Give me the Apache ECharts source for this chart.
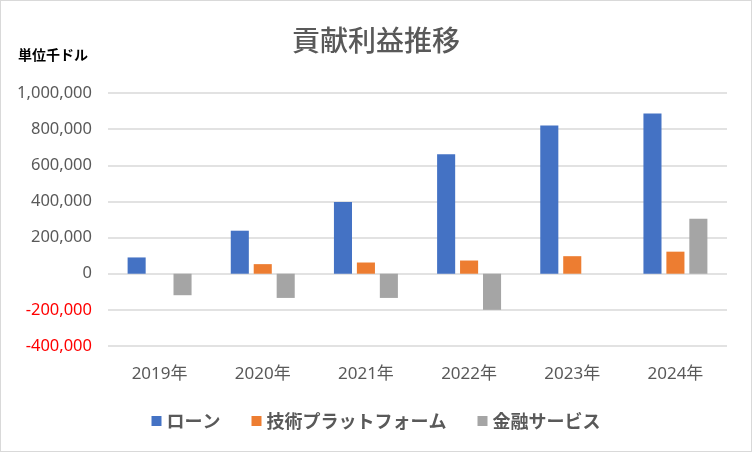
<!DOCTYPE html>
<html><head><meta charset="utf-8">
<script src="https://cdn.jsdelivr.net/npm/echarts@6/dist/echarts.min.js"></script>
<style>html,body{margin:0;padding:0;background:#fff}#c{width:750px;height:450px;border:1px solid #d9d9d9}</style>
</head><body><div id="c"></div>
<script>
const categories = ['2019年','2020年','2021年','2022年','2023年','2024年'];
const loan = [90000, 238000, 397000, 661000, 820000, 886000];
const techPlatform = [0, 53000, 62000, 73000, 97000, 122000];
const financialServices = [-119000, -134000, -134000, -200000, 0, 304000];
const seriesNames = ['ローン','技術プラットフォーム','金融サービス'];
const colors = ['#4472C4','#ED7D31','#A5A5A5'];
const jp = '"Noto Sans CJK JP", "Noto Sans", sans-serif';
const num = '"Noto Sans", "Noto Sans CJK JP", sans-serif';
const chart = echarts.init(document.getElementById('c'));
chart.setOption({
  animation:false,
  title:{text:'貢献利益推移',left:'center',top:20,textStyle:{fontFamily:jp,fontSize:28,fontWeight:500,color:'#595959'}},
  graphic:[{type:'text',left:17,top:47,style:{text:'単位千ドル',font:'bold 14px '+jp,fill:'#000'}}],
  legend:{top:406,left:'center',itemWidth:10,itemHeight:10,itemGap:31,icon:'rect',
    textStyle:{fontFamily:jp,fontSize:18,fontWeight:'bold',color:'#595959'}},
  grid:{left:107,right:24,top:92,bottom:105,containLabel:false},
  xAxis:{type:'category',data:categories,axisLine:{show:false},axisTick:{show:false},
    axisLabel:{fontFamily:num,fontSize:17,color:'#595959',margin:20}},
  yAxis:{type:'value',min:-400000,max:1000000,interval:200000,
    axisLabel:{fontFamily:num,fontSize:16.5,margin:16,
      color:function(v){return v<0?'#FF0000':'#595959';},
      formatter:function(v){return v.toLocaleString('en-US');}},
    splitLine:{lineStyle:{color:'#d9d9d9',width:1.5}}},
  series:[
    {name:seriesNames[0],type:'bar',data:loan,itemStyle:{color:colors[0]},barGap:'27%',barCategoryGap:'38%'},
    {name:seriesNames[1],type:'bar',data:techPlatform,itemStyle:{color:colors[1]}},
    {name:seriesNames[2],type:'bar',data:financialServices,itemStyle:{color:colors[2]}}
  ]
});
</script></body></html>
